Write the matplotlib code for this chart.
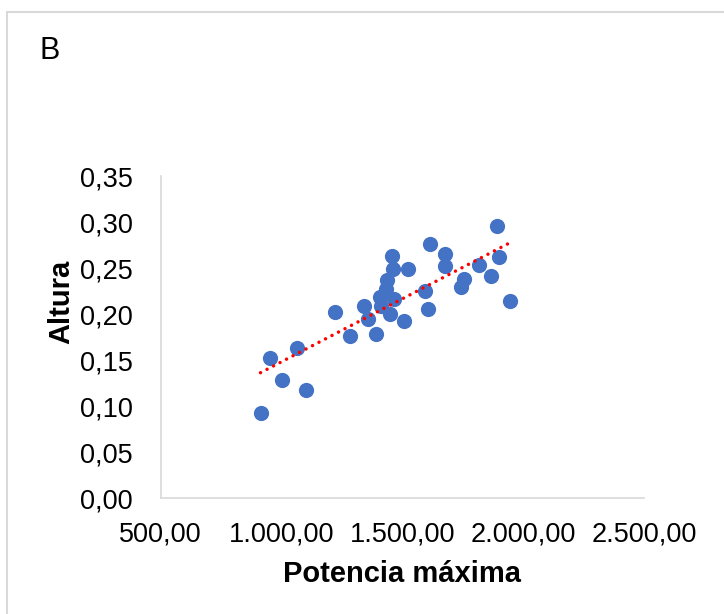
import matplotlib
matplotlib.use("Agg")
from matplotlib import pyplot as plt
from matplotlib.patches import Rectangle
from matplotlib.ticker import FuncFormatter
import numpy as np

plt.rcParams['font.family'] = ['Liberation Sans', 'DejaVu Sans']

# Potencia máxima (W) vs altura (m)
potencia = [913, 951, 1000, 1065, 1102, 1222, 1282, 1340, 1358, 1391,
            1406, 1410, 1431, 1437, 1450, 1457, 1463, 1464, 1507, 1524,
            1593, 1606, 1616, 1677, 1677, 1744, 1757, 1818, 1868, 1891,
            1898, 1946]
altura = [0.093, 0.152, 0.128, 0.163, 0.118, 0.202, 0.176, 0.209, 0.195, 0.178,
          0.219, 0.209, 0.227, 0.237, 0.200, 0.263, 0.249, 0.216, 0.193, 0.249,
          0.225, 0.206, 0.276, 0.265, 0.252, 0.229, 0.238, 0.253, 0.242, 0.296,
          0.262, 0.214]

x_ticks = [500, 1000, 1500, 2000, 2500]
y_ticks = [0.00, 0.05, 0.10, 0.15, 0.20, 0.25, 0.30, 0.35]


def fmt_es(v, decimals=2):
    # thousands with '.', decimals with ','
    s = f"{v:,.{decimals}f}"
    return s.replace(",", "X").replace(".", ",").replace("X", ".")


fig = plt.figure(figsize=(7.24, 6.14), dpi=100)
ax = fig.add_axes([0.222, 0.1883, 0.6675, 0.525])

ax.scatter(potencia, altura, s=120, color='#4472C4', zorder=3, linewidths=0)

# linear trend line
coef = np.polyfit(potencia, altura, 1)
xt = np.array([min(potencia), max(potencia)])
ax.plot(xt, np.polyval(coef, xt), color='#FF0000', lw=2.5,
        linestyle=(0, (0.01, 2.1)), dash_capstyle='round', zorder=4)

ax.set_xlim(500, 2500)
ax.set_ylim(0, 0.35)
ax.set_xticks(x_ticks)
ax.set_yticks(y_ticks)
ax.xaxis.set_major_formatter(FuncFormatter(lambda v, p: fmt_es(v)))
ax.yaxis.set_major_formatter(FuncFormatter(lambda v, p: fmt_es(v)))
ax.tick_params(length=0, labelsize=19.5, colors='#000000')
ax.tick_params(axis='x', pad=17)
ax.tick_params(axis='y', pad=20)

for side in ['top', 'right']:
    ax.spines[side].set_visible(False)
for side in ['left', 'bottom']:
    ax.spines[side].set_color('#d9d9d9')
    ax.spines[side].set_linewidth(1.2)

fig.text(402 / 724, 1 - 574 / 614, "Potencia máxima", fontsize=21,
         fontweight='bold', ha='center', va='center')
fig.text(61 / 724, 1 - 302 / 614, "Altura", fontsize=21, fontweight='bold',
         rotation=90, ha='center', va='center')
fig.text(50 / 724, 1 - 51 / 614, "B", fontsize=22, ha='center', va='center')

# outer frame
fig.patches.append(Rectangle((6.5 / 724, -0.1), 1.2, 1 - 12 / 614 + 0.1,
                             transform=fig.transFigure, fill=False,
                             edgecolor='#d9d9d9', lw=1.5))

fig.savefig("out.png", dpi=100)
